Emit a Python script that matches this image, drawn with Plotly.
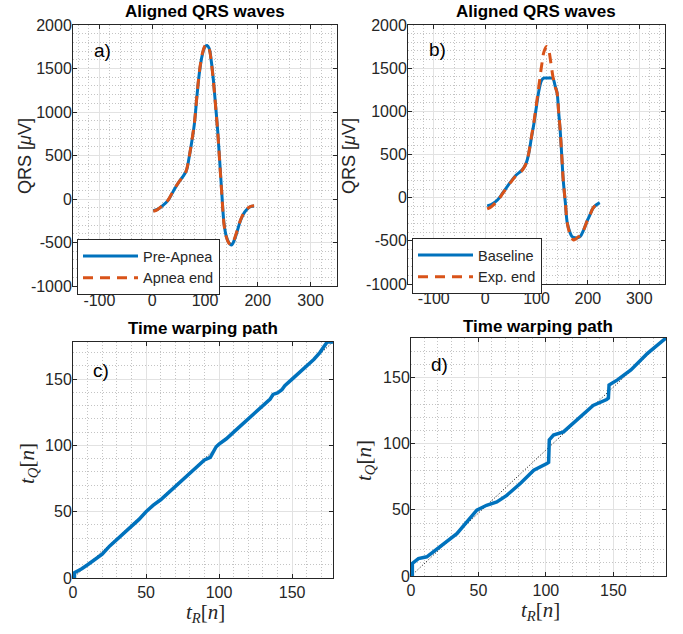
import plotly.graph_objects as go

# ---------------- data ----------------
# panel a
a_x_pre = [2, 10, 20, 30, 40, 50, 60, 65, 70, 75, 80, 85, 90, 95, 100, 104, 108, 112, 116, 120, 124, 128, 132, 136, 140, 145, 150, 155, 160, 168, 175, 182, 188, 193]
a_y_pre = [-135, -120, -75, -15, 90, 190, 275, 330, 480, 660, 870, 1200, 1480, 1660, 1750, 1765, 1730, 1580, 1360, 1080, 790, 420, 50, -280, -420, -500, -530, -480, -390, -235, -150, -105, -85, -80]
a_x_end = [2, 10, 20, 30, 40, 50, 60, 65, 70, 75, 80, 85, 90, 95, 100, 104, 108, 112, 116, 120, 124, 128, 132, 136, 140, 145, 150, 155, 160, 168, 175, 182, 188, 193]
a_y_end = [-140, -122, -72, -12, 95, 192, 272, 335, 485, 665, 880, 1210, 1490, 1670, 1760, 1770, 1725, 1570, 1350, 1070, 780, 410, 40, -290, -430, -505, -525, -470, -380, -230, -145, -100, -82, -78]

# panel b
b_x_base = [4, 12, 24, 35, 50, 60, 72, 80, 85, 90, 95, 100, 105, 110, 114, 120, 127, 132, 136, 140, 143, 146, 149, 152, 156, 160, 165, 169, 175, 180, 185, 192, 198, 204, 210, 216, 223]
b_y_base = [-95, -80, -27, 60, 185, 260, 320, 400, 515, 690, 860, 1060, 1250, 1360, 1385, 1385, 1385, 1380, 1300, 1215, 1000, 785, 500, 205, -50, -297, -400, -450, -465, -465, -450, -370, -277, -200, -122, -85, -57]
b_x_end = [4, 12, 24, 35, 50, 60, 72, 80, 85, 90, 95, 100, 105, 110, 115, 120, 124, 128, 132, 136, 140, 143, 146, 149, 152, 156, 160, 165, 169, 172, 176, 180, 185, 192, 198, 204, 210, 216, 223]
b_y_end = [-130, -105, -35, 55, 180, 255, 315, 400, 520, 700, 880, 1090, 1310, 1530, 1700, 1750, 1700, 1560, 1400, 1290, 1215, 1000, 785, 500, 205, -50, -300, -420, -470, -490, -480, -460, -440, -370, -277, -200, -122, -85, -57]

# panel c
c_tr = [0, 1, 1, 3, 6, 10, 15, 20, 25, 30, 35, 40, 45, 50, 55, 60, 65, 70, 75, 80, 85, 90, 94, 95, 96, 98, 100, 105, 110, 115, 120, 125, 130, 135, 137, 140, 143, 145, 150, 155, 160, 165, 169, 172, 174, 178]
c_tq = [0, 0, 4, 5, 7, 10, 14, 18, 24, 29, 34, 39, 44, 50, 55, 59, 64, 69, 74, 79, 84, 89, 91, 93, 96, 99, 101, 105, 110, 115, 120, 125, 130, 135, 138.5, 139.5, 142, 145, 150, 155, 160, 165, 170, 175, 178, 178]
c_diag_x = [0, 178]
c_diag_y = [0, 178]

# panel d
d_tr = [0, 1, 1, 5.5, 11.7, 21.6, 34, 48.8, 56, 63.6, 71, 81, 91, 100.7, 102, 102.5, 105.6, 113, 125.4, 135, 145, 146.3, 146.8, 153, 163, 175.3, 189]
d_tq = [0, 0, 9.5, 13.2, 14.5, 22, 32, 49.8, 53.5, 56, 61, 70, 80, 85, 86, 103, 106.6, 109, 120, 129, 133.5, 134.5, 144.5, 148.3, 155.8, 168.4, 180]
d_diag_x = [0, 189]
d_diag_y = [0, 180]

# tick labels
qrs_xticks = [-100, 0, 100, 200, 300]
qrs_xtext = ["-100", "0", "100", "200", "300"]
qrs_yticks = [-1000, -500, 0, 500, 1000, 1500, 2000]
qrs_ytext = ["-1000", "-500", "0", "500", "1000", "1500", "2000"]
path_ticks = [0, 50, 100, 150]
path_text = ["0", "50", "100", "150"]

BLUE = "#0072BD"
ORANGE = "#D95319"
AX = "#262626"
FONT = "Liberation Sans, Arial, sans-serif"
SERIF = "Liberation Serif, DejaVu Serif, serif"

fig = go.Figure()

def line(x, y, xa, ya, color, name, dash="solid", legend=None, show=False, width=3, shape="spline"):
    fig.add_trace(go.Scatter(
        x=x, y=y, xaxis=xa, yaxis=ya, mode="lines", name=name,
        line=dict(color=color, width=width, dash=dash, shape=shape),
        showlegend=show, legend=legend, hoverinfo="skip"))

line(a_x_pre, a_y_pre, "x", "y", BLUE, "Pre-Apnea", legend="legend", show=True)
line(a_x_end, a_y_end, "x", "y", ORANGE, "Apnea end", dash="10px,7px", legend="legend", show=True)
line(b_x_base, b_y_base, "x2", "y2", BLUE, "Baseline", legend="legend2", show=True)
line(b_x_end, b_y_end, "x2", "y2", ORANGE, "Exp. end", dash="10px,7px", legend="legend2", show=True)
line(c_diag_x, c_diag_y, "x3", "y3", "black", "diag", dash="1px,2px", width=1, shape="linear")
line(c_tr, c_tq, "x3", "y3", BLUE, "path", width=3.5, shape="linear")
line(d_diag_x, d_diag_y, "x4", "y4", "black", "diag", dash="1px,2px", width=1, shape="linear")
line(d_tr, d_tq, "x4", "y4", BLUE, "path", width=3.5, shape="linear")

W, H = 683, 634
def px_dom(a, b):
    return [a / W, b / W]

def ydom(top, bottom):
    return [1 - bottom / H, 1 - top / H]

def axis(dom, rng, tvals, ttext, minor, anchor, standoff=0):
    return dict(domain=dom, range=rng, tickmode="array", tickvals=tvals, ticktext=ttext,
                anchor=anchor, automargin=False, ticklabelstandoff=standoff,
                showline=True, mirror="ticks", linecolor=AX, linewidth=1,
                ticks="inside", ticklen=4, tickcolor=AX,
                showgrid=True, gridcolor="#e2e2e2", gridwidth=1,
                zeroline=False,
                tickfont=dict(family=FONT, size=16, color=AX),
                minor=dict(dtick=minor, tick0=0, tickmode="linear", showgrid=True,
                           gridcolor="#c4c4c4", griddash="1px,2px", gridwidth=1, ticks=""))

leg_font = dict(family=FONT, size=14.5, color=AX)

fig.update_layout(
    width=W, height=H, autosize=False,
    margin=dict(l=0, r=0, t=0, b=0, autoexpand=False),
    plot_bgcolor="white", paper_bgcolor="white",
    hovermode=False,
    xaxis=axis(px_dom(73, 337), [-150, 350], qrs_xticks, qrs_xtext, 20, "y"),
    yaxis=axis(ydom(25, 286), [-1000, 2000], qrs_yticks, qrs_ytext, 100, "x", -3),
    xaxis2=axis(px_dom(408, 665), [-150, 350], qrs_xticks, qrs_xtext, 20, "y2"),
    yaxis2=axis(ydom(25, 284), [-1000, 2000], qrs_yticks, qrs_ytext, 100, "x2", -3),
    xaxis3=axis(px_dom(73, 333), [0, 178], path_ticks, path_text, 10, "y3"),
    yaxis3=axis(ydom(342, 578), [0, 178], path_ticks, path_text, 10, "x3", -3),
    xaxis4=axis(px_dom(411, 666), [0, 189], path_ticks, path_text, 10, "y4"),
    yaxis4=axis(ydom(338, 576), [0, 180], path_ticks, path_text, 10, "x4", -3),
    legend=dict(x=77 / W, y=1 - 239 / H, xanchor="left", yanchor="top",
                bgcolor="white", bordercolor=AX, borderwidth=1, itemwidth=55,
                font=leg_font, tracegroupgap=0),
    legend2=dict(x=412 / W, y=1 - 238 / H, xanchor="left", yanchor="top",
                 bgcolor="white", bordercolor=AX, borderwidth=1, itemwidth=55,
                 font=leg_font, tracegroupgap=0),
)

def ann(text, xpx, ypx, font, angle=0):
    fig.add_annotation(text=text, x=xpx / W, y=1 - ypx / H, xref="paper", yref="paper",
                       showarrow=False, xanchor="center", yanchor="middle",
                       textangle=angle, font=font)

title_font = dict(family=FONT, size=17, color="black")
ann("<b>Aligned QRS waves</b>", 205, 12, title_font)
ann("<b>Aligned QRS waves</b>", 536, 12, title_font)
ann("<b>Time warping path</b>", 203, 328, title_font)
ann("<b>Time warping path</b>", 538, 326, title_font)

lab_font = dict(family=FONT, size=18, color=AX)
tex_font = dict(family=SERIF, size=21, color=AX)
ann("QRS [<i>μ</i>V]", 25, 156, lab_font, -90)
ann("QRS [<i>μ</i>V]", 349, 156, lab_font, -90)
ann("<i>t</i><sub><i>Q</i></sub>[<i>n</i>]", 28, 464, tex_font, -90)
ann("<i>t</i><sub><i>Q</i></sub>[<i>n</i>]", 365, 461, tex_font, -90)
ann("<i>t</i><sub><i>R</i></sub>[<i>n</i>]", 205, 613, tex_font)
ann("<i>t</i><sub><i>R</i></sub>[<i>n</i>]", 540, 611, tex_font)

panel_labels = [("a)", "x", "y", 0.072, 0.904), ("b)", "x2", "y2", 0.075, 0.907),
                ("c)", "x3", "y3", 0.07, 0.88), ("d)", "x4", "y4", 0.072, 0.887)]
for t, xa, ya, x, y in panel_labels:
    fig.add_annotation(text=t, x=x, y=y, xref=xa + " domain", yref=ya + " domain",
                       showarrow=False, xanchor="left", yanchor="middle",
                       font=dict(family=FONT, size=19, color="black"))

fig.write_html("out.html", config={"displayModeBar": False, "staticPlot": True},
               post_script="document.body.style.margin='0';document.body.style.overflow='hidden';")
